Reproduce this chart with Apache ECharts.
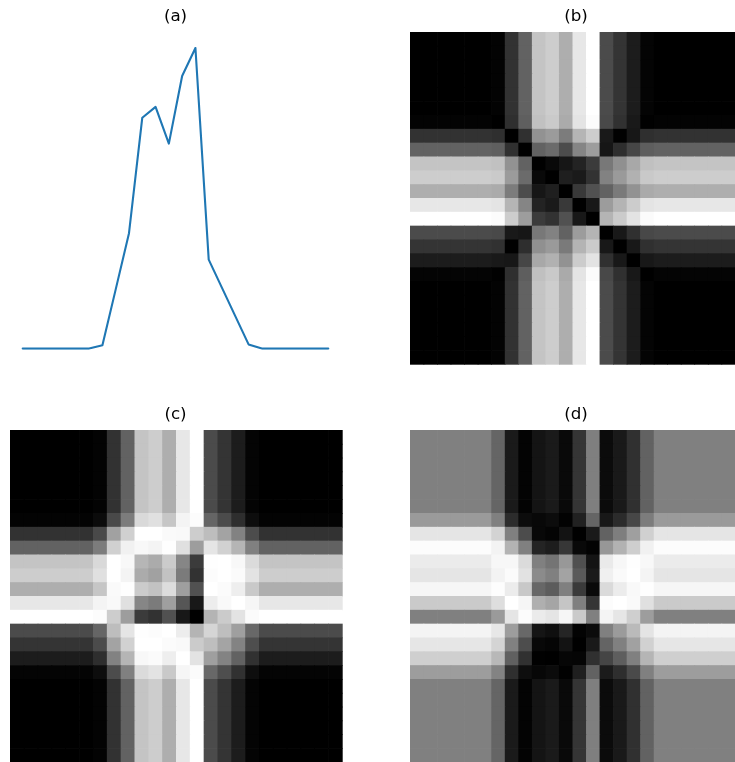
<!DOCTYPE html>
<html>
<head>
<meta charset="utf-8">
<script src="https://cdn.jsdelivr.net/npm/echarts@6/dist/echarts.min.js"></script>
<style>
html,body{margin:0;padding:0;background:#fff;}
#chart{width:735px;height:762px;}
</style>
</head>
<body>
<div id="chart"></div>
<script>
// ---- data ----
var timeSteps = [0,1,2,3,4,5,6,7,8,9,10,11,12,13,14,15,16,17,18,19,20,21,22,23];
var values = [0,0,0,0,0,0,0.011,0.197,0.384,0.768,0.804,0.682,0.907,1.0,0.296,0.202,0.108,0.014,0,0,0,0,0,0];
var panelTitles = ['(a)','(b)','(c)','(d)'];

// ---- derived images (recurrence plot, GASF, GADF) from the series ----
var n = values.length;
var vmin = Math.min.apply(null, values), vmax = Math.max.apply(null, values);
var scaled = values.map(function(v){ var s = 2*(v-vmin)/(vmax-vmin)-1; return Math.max(-1, Math.min(1, s)); });
var phi = scaled.map(function(s){ return Math.acos(s); });
function build(fn){
  var out = [], lo = Infinity, hi = -Infinity;
  for (var i=0;i<n;i++) for (var j=0;j<n;j++){
    var v = fn(i,j); out.push([j,i,v]); if(v<lo)lo=v; if(v>hi)hi=v;
  }
  return {data:out, min:lo, max:hi};
}
var recurrence = build(function(i,j){ return Math.abs(values[i]-values[j]); });
var gasf = build(function(i,j){ return Math.cos(phi[i]+phi[j]); });
var gadf = build(function(i,j){ return Math.sin(phi[j]-phi[i]); });

function renderCell(params, api){
  var c = api.coord([api.value(0), api.value(1)]);
  var s = api.size([1, 1]);
  return {
    type:'rect',
    shape:{x:c[0]-s[0]/2, y:c[1]-s[1]/2, width:s[0]+0.7, height:s[1]+0.7},
    style:{fill: api.visual('color'), stroke:null},
    silent:true
  };
}

var chart = echarts.init(document.getElementById('chart'), null, {renderer:'canvas'});
var cell = 332;
var grids = [
  {left:22.7, top:48, width:305.6, height:300.6},
  {left:410, top:32, width:cell, height:cell},
  {left:10, top:430, width:cell, height:cell},
  {left:410, top:430, width:cell, height:cell}
];
var titleFont = {fontFamily:'DejaVu Sans', fontSize:16.7, fontWeight:'normal', color:'#000'};
var titleCenters = [[175.5,8.5],[576,8.5],[175.5,406.5],[576,406.5]];
function catAxis(g, inv){ return {type:'category', gridIndex:g, data:timeSteps, inverse:!!inv, show:false, boundaryGap:true}; }
var option = {
  animation:false,
  backgroundColor:'#fff',
  title: panelTitles.map(function(t,k){ return {text:t, left:titleCenters[k][0], top:titleCenters[k][1], textAlign:'center', padding:0, textStyle:titleFont}; }),
  grid: grids,
  xAxis: [
    {type:'value', gridIndex:0, min:0, max:23, show:false},
    catAxis(1), catAxis(2), catAxis(3)
  ],
  yAxis: [
    {type:'value', gridIndex:0, min:0, max:1, show:false},
    catAxis(1,true), catAxis(2,true), catAxis(3,true)
  ],
  visualMap: [
    {show:false, seriesIndex:1, dimension:2, min:recurrence.min, max:recurrence.max, inRange:{color:['#000000','#ffffff']}},
    {show:false, seriesIndex:2, dimension:2, min:gasf.min, max:gasf.max, inRange:{color:['#ffffff','#000000']}},
    {show:false, seriesIndex:3, dimension:2, min:gadf.min, max:gadf.max, inRange:{color:['#000000','#ffffff']}}
  ],
  series: [
    {type:'line', xAxisIndex:0, yAxisIndex:0, data:timeSteps.map(function(t,k){return [t, values[k]];}),
     showSymbol:false, symbol:'none', lineStyle:{color:'#1f77b4', width:2.1, cap:'round', join:'round'}},
    {type:'custom', xAxisIndex:1, yAxisIndex:1, data:recurrence.data, renderItem:renderCell, encode:{x:0, y:1}},
    {type:'custom', xAxisIndex:2, yAxisIndex:2, data:gasf.data, renderItem:renderCell, encode:{x:0, y:1}},
    {type:'custom', xAxisIndex:3, yAxisIndex:3, data:gadf.data, renderItem:renderCell, encode:{x:0, y:1}}
  ]
};
chart.setOption(option);
</script>
</body>
</html>
